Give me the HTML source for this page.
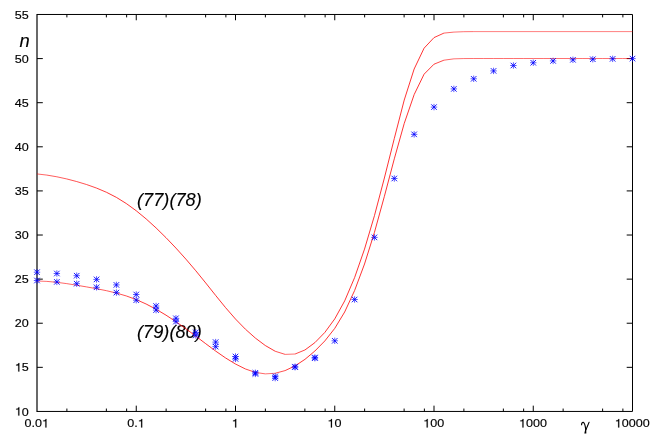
<!DOCTYPE html>
<html><head><meta charset="utf-8"><title>plot</title>
<style>
html,body{margin:0;padding:0;background:#fff;}
svg{display:block;will-change:transform;}
.s{font-family:"Liberation Sans",sans-serif;fill:#000;}
.r{font-family:"Liberation Serif",serif;fill:#000;}
</style></head>
<body>
<svg width="654" height="436" viewBox="0 0 654 436">
<rect width="654" height="436" fill="#fff"/>
<text transform="translate(137.0,205.7) scale(1.035,1)" font-size="17.6" font-style="italic" class="s" stroke="#000" stroke-width="0.12">(77)(78)</text>
<text transform="translate(137.0,337.8) scale(1.035,1)" font-size="17.6" font-style="italic" class="s" stroke="#000" stroke-width="0.12">(79)(80)</text>
<path d="M37.00 14.48H632.50V411.45H37.00" fill="none" stroke="#000" stroke-width="1" stroke-linejoin="miter"/>
<line x1="37.00" y1="13.98" x2="37.00" y2="411.95" stroke="#000" stroke-width="1.18" />
<line x1="66.88" y1="411.45" x2="66.88" y2="408.55" stroke="#000" stroke-width="1.0" />
<line x1="66.88" y1="14.48" x2="66.88" y2="17.38" stroke="#000" stroke-width="1.0" />
<line x1="106.37" y1="411.45" x2="106.37" y2="408.55" stroke="#000" stroke-width="1.0" />
<line x1="106.37" y1="14.48" x2="106.37" y2="17.38" stroke="#000" stroke-width="1.0" />
<line x1="126.63" y1="411.45" x2="126.63" y2="408.55" stroke="#000" stroke-width="1.0" />
<line x1="126.63" y1="14.48" x2="126.63" y2="17.38" stroke="#000" stroke-width="1.0" />
<line x1="136.25" y1="411.45" x2="136.25" y2="405.65" stroke="#000" stroke-width="1.0" />
<line x1="136.25" y1="14.48" x2="136.25" y2="20.28" stroke="#000" stroke-width="1.0" />
<line x1="166.13" y1="411.45" x2="166.13" y2="408.55" stroke="#000" stroke-width="1.0" />
<line x1="166.13" y1="14.48" x2="166.13" y2="17.38" stroke="#000" stroke-width="1.0" />
<line x1="205.62" y1="411.45" x2="205.62" y2="408.55" stroke="#000" stroke-width="1.0" />
<line x1="205.62" y1="14.48" x2="205.62" y2="17.38" stroke="#000" stroke-width="1.0" />
<line x1="225.88" y1="411.45" x2="225.88" y2="408.55" stroke="#000" stroke-width="1.0" />
<line x1="225.88" y1="14.48" x2="225.88" y2="17.38" stroke="#000" stroke-width="1.0" />
<line x1="235.50" y1="411.45" x2="235.50" y2="405.65" stroke="#000" stroke-width="1.0" />
<line x1="235.50" y1="14.48" x2="235.50" y2="20.28" stroke="#000" stroke-width="1.0" />
<line x1="265.38" y1="411.45" x2="265.38" y2="408.55" stroke="#000" stroke-width="1.0" />
<line x1="265.38" y1="14.48" x2="265.38" y2="17.38" stroke="#000" stroke-width="1.0" />
<line x1="304.87" y1="411.45" x2="304.87" y2="408.55" stroke="#000" stroke-width="1.0" />
<line x1="304.87" y1="14.48" x2="304.87" y2="17.38" stroke="#000" stroke-width="1.0" />
<line x1="325.13" y1="411.45" x2="325.13" y2="408.55" stroke="#000" stroke-width="1.0" />
<line x1="325.13" y1="14.48" x2="325.13" y2="17.38" stroke="#000" stroke-width="1.0" />
<line x1="334.75" y1="411.45" x2="334.75" y2="405.65" stroke="#000" stroke-width="1.0" />
<line x1="334.75" y1="14.48" x2="334.75" y2="20.28" stroke="#000" stroke-width="1.0" />
<line x1="364.63" y1="411.45" x2="364.63" y2="408.55" stroke="#000" stroke-width="1.0" />
<line x1="364.63" y1="14.48" x2="364.63" y2="17.38" stroke="#000" stroke-width="1.0" />
<line x1="404.12" y1="411.45" x2="404.12" y2="408.55" stroke="#000" stroke-width="1.0" />
<line x1="404.12" y1="14.48" x2="404.12" y2="17.38" stroke="#000" stroke-width="1.0" />
<line x1="424.38" y1="411.45" x2="424.38" y2="408.55" stroke="#000" stroke-width="1.0" />
<line x1="424.38" y1="14.48" x2="424.38" y2="17.38" stroke="#000" stroke-width="1.0" />
<line x1="434.00" y1="411.45" x2="434.00" y2="405.65" stroke="#000" stroke-width="1.0" />
<line x1="434.00" y1="14.48" x2="434.00" y2="20.28" stroke="#000" stroke-width="1.0" />
<line x1="463.88" y1="411.45" x2="463.88" y2="408.55" stroke="#000" stroke-width="1.0" />
<line x1="463.88" y1="14.48" x2="463.88" y2="17.38" stroke="#000" stroke-width="1.0" />
<line x1="503.37" y1="411.45" x2="503.37" y2="408.55" stroke="#000" stroke-width="1.0" />
<line x1="503.37" y1="14.48" x2="503.37" y2="17.38" stroke="#000" stroke-width="1.0" />
<line x1="523.63" y1="411.45" x2="523.63" y2="408.55" stroke="#000" stroke-width="1.0" />
<line x1="523.63" y1="14.48" x2="523.63" y2="17.38" stroke="#000" stroke-width="1.0" />
<line x1="533.25" y1="411.45" x2="533.25" y2="405.65" stroke="#000" stroke-width="1.0" />
<line x1="533.25" y1="14.48" x2="533.25" y2="20.28" stroke="#000" stroke-width="1.0" />
<line x1="563.13" y1="411.45" x2="563.13" y2="408.55" stroke="#000" stroke-width="1.0" />
<line x1="563.13" y1="14.48" x2="563.13" y2="17.38" stroke="#000" stroke-width="1.0" />
<line x1="602.62" y1="411.45" x2="602.62" y2="408.55" stroke="#000" stroke-width="1.0" />
<line x1="602.62" y1="14.48" x2="602.62" y2="17.38" stroke="#000" stroke-width="1.0" />
<line x1="622.88" y1="411.45" x2="622.88" y2="408.55" stroke="#000" stroke-width="1.0" />
<line x1="622.88" y1="14.48" x2="622.88" y2="17.38" stroke="#000" stroke-width="1.0" />
<line x1="37.00" y1="367.34" x2="42.80" y2="367.34" stroke="#000" stroke-width="1.0" />
<line x1="632.50" y1="367.34" x2="626.70" y2="367.34" stroke="#000" stroke-width="1.0" />
<line x1="37.00" y1="323.23" x2="42.80" y2="323.23" stroke="#000" stroke-width="1.0" />
<line x1="632.50" y1="323.23" x2="626.70" y2="323.23" stroke="#000" stroke-width="1.0" />
<line x1="37.00" y1="279.13" x2="42.80" y2="279.13" stroke="#000" stroke-width="1.0" />
<line x1="632.50" y1="279.13" x2="626.70" y2="279.13" stroke="#000" stroke-width="1.0" />
<line x1="37.00" y1="235.02" x2="42.80" y2="235.02" stroke="#000" stroke-width="1.0" />
<line x1="632.50" y1="235.02" x2="626.70" y2="235.02" stroke="#000" stroke-width="1.0" />
<line x1="37.00" y1="190.91" x2="42.80" y2="190.91" stroke="#000" stroke-width="1.0" />
<line x1="632.50" y1="190.91" x2="626.70" y2="190.91" stroke="#000" stroke-width="1.0" />
<line x1="37.00" y1="146.80" x2="42.80" y2="146.80" stroke="#000" stroke-width="1.0" />
<line x1="632.50" y1="146.80" x2="626.70" y2="146.80" stroke="#000" stroke-width="1.0" />
<line x1="37.00" y1="102.70" x2="42.80" y2="102.70" stroke="#000" stroke-width="1.0" />
<line x1="632.50" y1="102.70" x2="626.70" y2="102.70" stroke="#000" stroke-width="1.0" />
<line x1="37.00" y1="58.59" x2="42.80" y2="58.59" stroke="#000" stroke-width="1.0" />
<line x1="632.50" y1="58.59" x2="626.70" y2="58.59" stroke="#000" stroke-width="1.0" />
<path d="M0.359 0L0.273 0L0.273 -0.505L0.101 -0.505L0.101 -0.568C0.2 -0.568 0.28 -0.62 0.295 -0.703L0.359 -0.703Z" transform="translate(14.83,415.60) scale(12.567,12.012)" fill="#000" stroke="#000" stroke-width="0.0136"/>
<text transform="translate(21.81,415.60) scale(1.065,1)" font-size="11.8" class="s" stroke="#000" stroke-width="0.16">0</text>
<path d="M0.359 0L0.273 0L0.273 -0.505L0.101 -0.505L0.101 -0.568C0.2 -0.568 0.28 -0.62 0.295 -0.703L0.359 -0.703Z" transform="translate(14.83,371.49) scale(12.567,12.012)" fill="#000" stroke="#000" stroke-width="0.0136"/>
<text transform="translate(21.81,371.49) scale(1.065,1)" font-size="11.8" class="s" stroke="#000" stroke-width="0.16">5</text>
<text transform="translate(14.83,327.38) scale(1.065,1)" font-size="11.8" class="s" stroke="#000" stroke-width="0.16">2</text>
<text transform="translate(21.81,327.38) scale(1.065,1)" font-size="11.8" class="s" stroke="#000" stroke-width="0.16">0</text>
<text transform="translate(14.83,283.28) scale(1.065,1)" font-size="11.8" class="s" stroke="#000" stroke-width="0.16">2</text>
<text transform="translate(21.81,283.28) scale(1.065,1)" font-size="11.8" class="s" stroke="#000" stroke-width="0.16">5</text>
<text transform="translate(14.83,239.17) scale(1.065,1)" font-size="11.8" class="s" stroke="#000" stroke-width="0.16">3</text>
<text transform="translate(21.81,239.17) scale(1.065,1)" font-size="11.8" class="s" stroke="#000" stroke-width="0.16">0</text>
<text transform="translate(14.83,195.06) scale(1.065,1)" font-size="11.8" class="s" stroke="#000" stroke-width="0.16">3</text>
<text transform="translate(21.81,195.06) scale(1.065,1)" font-size="11.8" class="s" stroke="#000" stroke-width="0.16">5</text>
<text transform="translate(14.83,150.95) scale(1.065,1)" font-size="11.8" class="s" stroke="#000" stroke-width="0.16">4</text>
<text transform="translate(21.81,150.95) scale(1.065,1)" font-size="11.8" class="s" stroke="#000" stroke-width="0.16">0</text>
<text transform="translate(14.83,106.85) scale(1.065,1)" font-size="11.8" class="s" stroke="#000" stroke-width="0.16">4</text>
<text transform="translate(21.81,106.85) scale(1.065,1)" font-size="11.8" class="s" stroke="#000" stroke-width="0.16">5</text>
<text transform="translate(14.83,62.74) scale(1.065,1)" font-size="11.8" class="s" stroke="#000" stroke-width="0.16">5</text>
<text transform="translate(21.81,62.74) scale(1.065,1)" font-size="11.8" class="s" stroke="#000" stroke-width="0.16">0</text>
<text transform="translate(14.83,18.63) scale(1.065,1)" font-size="11.8" class="s" stroke="#000" stroke-width="0.16">5</text>
<text transform="translate(21.81,18.63) scale(1.065,1)" font-size="11.8" class="s" stroke="#000" stroke-width="0.16">5</text>
<text transform="translate(24.47,427.40) scale(1.065,1)" font-size="11.8" class="s" stroke="#000" stroke-width="0.16">0</text>
<text transform="translate(31.46,427.40) scale(1.065,1)" font-size="11.8" class="s" stroke="#000" stroke-width="0.16">.</text>
<text transform="translate(34.95,427.40) scale(1.065,1)" font-size="11.8" class="s" stroke="#000" stroke-width="0.16">0</text>
<path d="M0.359 0L0.273 0L0.273 -0.505L0.101 -0.505L0.101 -0.568C0.2 -0.568 0.28 -0.62 0.295 -0.703L0.359 -0.703Z" transform="translate(41.94,427.40) scale(12.567,12.012)" fill="#000" stroke="#000" stroke-width="0.0136"/>
<text transform="translate(127.22,427.40) scale(1.065,1)" font-size="11.8" class="s" stroke="#000" stroke-width="0.16">0</text>
<text transform="translate(134.20,427.40) scale(1.065,1)" font-size="11.8" class="s" stroke="#000" stroke-width="0.16">.</text>
<path d="M0.359 0L0.273 0L0.273 -0.505L0.101 -0.505L0.101 -0.568C0.2 -0.568 0.28 -0.62 0.295 -0.703L0.359 -0.703Z" transform="translate(137.70,427.40) scale(12.567,12.012)" fill="#000" stroke="#000" stroke-width="0.0136"/>
<path d="M0.359 0L0.273 0L0.273 -0.505L0.101 -0.505L0.101 -0.568C0.2 -0.568 0.28 -0.62 0.295 -0.703L0.359 -0.703Z" transform="translate(231.71,427.40) scale(12.567,12.012)" fill="#000" stroke="#000" stroke-width="0.0136"/>
<path d="M0.359 0L0.273 0L0.273 -0.505L0.101 -0.505L0.101 -0.568C0.2 -0.568 0.28 -0.62 0.295 -0.703L0.359 -0.703Z" transform="translate(327.46,427.40) scale(12.567,12.012)" fill="#000" stroke="#000" stroke-width="0.0136"/>
<text transform="translate(334.45,427.40) scale(1.065,1)" font-size="11.8" class="s" stroke="#000" stroke-width="0.16">0</text>
<path d="M0.359 0L0.273 0L0.273 -0.505L0.101 -0.505L0.101 -0.568C0.2 -0.568 0.28 -0.62 0.295 -0.703L0.359 -0.703Z" transform="translate(423.22,427.40) scale(12.567,12.012)" fill="#000" stroke="#000" stroke-width="0.0136"/>
<text transform="translate(430.21,427.40) scale(1.065,1)" font-size="11.8" class="s" stroke="#000" stroke-width="0.16">0</text>
<text transform="translate(437.19,427.40) scale(1.065,1)" font-size="11.8" class="s" stroke="#000" stroke-width="0.16">0</text>
<path d="M0.359 0L0.273 0L0.273 -0.505L0.101 -0.505L0.101 -0.568C0.2 -0.568 0.28 -0.62 0.295 -0.703L0.359 -0.703Z" transform="translate(518.98,427.40) scale(12.567,12.012)" fill="#000" stroke="#000" stroke-width="0.0136"/>
<text transform="translate(525.96,427.40) scale(1.065,1)" font-size="11.8" class="s" stroke="#000" stroke-width="0.16">0</text>
<text transform="translate(532.95,427.40) scale(1.065,1)" font-size="11.8" class="s" stroke="#000" stroke-width="0.16">0</text>
<text transform="translate(539.94,427.40) scale(1.065,1)" font-size="11.8" class="s" stroke="#000" stroke-width="0.16">0</text>
<path d="M0.359 0L0.273 0L0.273 -0.505L0.101 -0.505L0.101 -0.568C0.2 -0.568 0.28 -0.62 0.295 -0.703L0.359 -0.703Z" transform="translate(614.73,427.40) scale(12.567,12.012)" fill="#000" stroke="#000" stroke-width="0.0136"/>
<text transform="translate(621.72,427.40) scale(1.065,1)" font-size="11.8" class="s" stroke="#000" stroke-width="0.16">0</text>
<text transform="translate(628.71,427.40) scale(1.065,1)" font-size="11.8" class="s" stroke="#000" stroke-width="0.16">0</text>
<text transform="translate(635.69,427.40) scale(1.065,1)" font-size="11.8" class="s" stroke="#000" stroke-width="0.16">0</text>
<text transform="translate(642.68,427.40) scale(1.065,1)" font-size="11.8" class="s" stroke="#000" stroke-width="0.16">0</text>
<text transform="translate(19.4,46.9) scale(1.045,1)" font-size="17.6" font-style="italic" class="s" stroke="#000" stroke-width="0.12">n</text>
<g fill="none" stroke="#000" stroke-linecap="round" stroke-linejoin="round"><path d="M581.6 424.8C581.5 423 582.4 422.2 583.3 422.4C584.6 422.8 585.2 425.2 585.75 429.4" stroke-width="1.15"/><path d="M589.1 422.2L585.8 430" stroke-width="1.05"/><path d="M585.3 428.8L586.2 428.8L586.35 433.6L584.35 433.6Z" fill="#000" stroke="none"/></g>
<polyline points="37.00,173.93 46.92,175.10" fill="none" stroke="#ff0000" stroke-width="0.60" stroke-linejoin="round"/>
<polyline points="46.92,175.10 56.85,176.79 66.78,178.95" fill="none" stroke="#ff0000" stroke-width="0.64" stroke-linejoin="round"/>
<polyline points="66.78,178.95 76.70,181.55 86.62,184.56" fill="none" stroke="#ff0000" stroke-width="0.68" stroke-linejoin="round"/>
<polyline points="86.62,184.56 96.55,188.08" fill="none" stroke="#ff0000" stroke-width="0.72" stroke-linejoin="round"/>
<polyline points="96.55,188.08 106.47,192.29" fill="none" stroke="#ff0000" stroke-width="0.76" stroke-linejoin="round"/>
<polyline points="106.47,192.29 116.40,197.39 126.33,203.55 136.25,210.78 146.18,218.95 156.10,227.96 166.03,237.69 175.95,248.08 185.88,259.11 195.80,270.75 205.72,282.96 215.65,295.43 225.57,307.64 235.50,319.04 245.43,329.21 255.35,338.05 265.27,345.51 275.20,351.25" fill="none" stroke="#ff0000" stroke-width="0.80" stroke-linejoin="round"/>
<polyline points="275.20,351.25 285.12,354.39" fill="none" stroke="#ff0000" stroke-width="0.68" stroke-linejoin="round"/>
<polyline points="285.12,354.39 295.05,354.02" fill="none" stroke="#ff0000" stroke-width="0.56" stroke-linejoin="round"/>
<polyline points="295.05,354.02 304.98,349.96" fill="none" stroke="#ff0000" stroke-width="0.72" stroke-linejoin="round"/>
<polyline points="304.98,349.96 314.90,342.63 324.82,332.45 334.75,318.89 344.68,300.90 354.60,277.62 364.52,249.11 374.45,215.68 384.38,178.00 394.30,138.49 404.23,100.05 414.15,69.00 424.07,48.20 434.00,37.60" fill="none" stroke="#ff0000" stroke-width="0.80" stroke-linejoin="round"/>
<polyline points="434.00,37.60 443.93,33.10" fill="none" stroke="#ff0000" stroke-width="0.76" stroke-linejoin="round"/>
<polyline points="443.93,33.10 453.85,32.10" fill="none" stroke="#ff0000" stroke-width="0.60" stroke-linejoin="round"/>
<polyline points="453.85,32.10 463.77,31.70 473.70,31.60" fill="none" stroke="#ff0000" stroke-width="0.56" stroke-linejoin="round"/>
<polyline points="473.70,31.60 632.50,31.60" fill="none" stroke="#ff0000" stroke-width="0.50" stroke-linejoin="round"/>
<polyline points="37.00,281.01 46.92,281.40" fill="none" stroke="#ff0000" stroke-width="0.56" stroke-linejoin="round"/>
<polyline points="46.92,281.40 56.85,282.32 66.78,283.64 76.70,285.22" fill="none" stroke="#ff0000" stroke-width="0.60" stroke-linejoin="round"/>
<polyline points="76.70,285.22 86.62,286.92 96.55,288.70 106.47,290.69 116.40,293.05" fill="none" stroke="#ff0000" stroke-width="0.64" stroke-linejoin="round"/>
<polyline points="116.40,293.05 126.33,295.96" fill="none" stroke="#ff0000" stroke-width="0.68" stroke-linejoin="round"/>
<polyline points="126.33,295.96 136.25,299.59" fill="none" stroke="#ff0000" stroke-width="0.72" stroke-linejoin="round"/>
<polyline points="136.25,299.59 146.18,304.04" fill="none" stroke="#ff0000" stroke-width="0.76" stroke-linejoin="round"/>
<polyline points="146.18,304.04 156.10,309.26 166.03,315.17 175.95,321.69 185.88,328.72 195.80,336.16 205.72,343.70 215.65,351.07 225.57,357.94 235.50,364.03" fill="none" stroke="#ff0000" stroke-width="0.80" stroke-linejoin="round"/>
<polyline points="235.50,364.03 245.43,368.97" fill="none" stroke="#ff0000" stroke-width="0.76" stroke-linejoin="round"/>
<polyline points="245.43,368.97 255.35,372.38" fill="none" stroke="#ff0000" stroke-width="0.72" stroke-linejoin="round"/>
<polyline points="255.35,372.38 265.27,373.89" fill="none" stroke="#ff0000" stroke-width="0.60" stroke-linejoin="round"/>
<polyline points="265.27,373.89 275.20,373.27" fill="none" stroke="#ff0000" stroke-width="0.56" stroke-linejoin="round"/>
<polyline points="275.20,373.27 285.12,370.59" fill="none" stroke="#ff0000" stroke-width="0.68" stroke-linejoin="round"/>
<polyline points="285.12,370.59 295.05,365.90" fill="none" stroke="#ff0000" stroke-width="0.76" stroke-linejoin="round"/>
<polyline points="295.05,365.90 304.98,359.33 314.90,351.00 324.82,340.95 334.75,328.39 344.68,311.97 354.60,290.56 364.52,264.00 374.45,232.39 384.38,196.35 394.30,158.82 404.23,123.46 414.15,94.60 424.07,74.20 434.00,64.20" fill="none" stroke="#ff0000" stroke-width="0.80" stroke-linejoin="round"/>
<polyline points="434.00,64.20 443.93,60.20" fill="none" stroke="#ff0000" stroke-width="0.72" stroke-linejoin="round"/>
<polyline points="443.93,60.20 453.85,58.85" fill="none" stroke="#ff0000" stroke-width="0.60" stroke-linejoin="round"/>
<polyline points="453.85,58.85 463.77,58.55 473.70,58.50 483.62,58.50 493.55,58.50 503.48,58.50 513.40,58.50 523.33,58.50 533.25,58.50 543.17,58.50 553.10,58.50 563.02,58.50 572.95,58.50 582.88,58.50 592.80,58.50 602.73,58.50 612.65,58.50 622.58,58.50 632.50,58.50" fill="none" stroke="#ff0000" stroke-width="0.56" stroke-linejoin="round"/>
<g transform="translate(37.00,272.20)" fill="none" stroke="#0000ff"><path d="M-3.2 0H3.2M0 -3.2V3.2" stroke-width="0.65"/><path d="M-2.75 -2.75L2.75 2.75M-2.75 2.75L2.75 -2.75" stroke-width="0.9"/></g>
<g transform="translate(37.00,280.50)" fill="none" stroke="#0000ff"><path d="M-3.2 0H3.2M0 -3.2V3.2" stroke-width="0.65"/><path d="M-2.75 -2.75L2.75 2.75M-2.75 2.75L2.75 -2.75" stroke-width="0.9"/></g>
<g transform="translate(56.85,273.50)" fill="none" stroke="#0000ff"><path d="M-3.2 0H3.2M0 -3.2V3.2" stroke-width="0.65"/><path d="M-2.75 -2.75L2.75 2.75M-2.75 2.75L2.75 -2.75" stroke-width="0.9"/></g>
<g transform="translate(56.85,281.90)" fill="none" stroke="#0000ff"><path d="M-3.2 0H3.2M0 -3.2V3.2" stroke-width="0.65"/><path d="M-2.75 -2.75L2.75 2.75M-2.75 2.75L2.75 -2.75" stroke-width="0.9"/></g>
<g transform="translate(76.70,275.70)" fill="none" stroke="#0000ff"><path d="M-3.2 0H3.2M0 -3.2V3.2" stroke-width="0.65"/><path d="M-2.75 -2.75L2.75 2.75M-2.75 2.75L2.75 -2.75" stroke-width="0.9"/></g>
<g transform="translate(76.70,283.70)" fill="none" stroke="#0000ff"><path d="M-3.2 0H3.2M0 -3.2V3.2" stroke-width="0.65"/><path d="M-2.75 -2.75L2.75 2.75M-2.75 2.75L2.75 -2.75" stroke-width="0.9"/></g>
<g transform="translate(96.55,279.40)" fill="none" stroke="#0000ff"><path d="M-3.2 0H3.2M0 -3.2V3.2" stroke-width="0.65"/><path d="M-2.75 -2.75L2.75 2.75M-2.75 2.75L2.75 -2.75" stroke-width="0.9"/></g>
<g transform="translate(96.55,287.30)" fill="none" stroke="#0000ff"><path d="M-3.2 0H3.2M0 -3.2V3.2" stroke-width="0.65"/><path d="M-2.75 -2.75L2.75 2.75M-2.75 2.75L2.75 -2.75" stroke-width="0.9"/></g>
<g transform="translate(116.40,284.90)" fill="none" stroke="#0000ff"><path d="M-3.2 0H3.2M0 -3.2V3.2" stroke-width="0.65"/><path d="M-2.75 -2.75L2.75 2.75M-2.75 2.75L2.75 -2.75" stroke-width="0.9"/></g>
<g transform="translate(116.40,292.60)" fill="none" stroke="#0000ff"><path d="M-3.2 0H3.2M0 -3.2V3.2" stroke-width="0.65"/><path d="M-2.75 -2.75L2.75 2.75M-2.75 2.75L2.75 -2.75" stroke-width="0.9"/></g>
<g transform="translate(136.25,294.50)" fill="none" stroke="#0000ff"><path d="M-3.2 0H3.2M0 -3.2V3.2" stroke-width="0.65"/><path d="M-2.75 -2.75L2.75 2.75M-2.75 2.75L2.75 -2.75" stroke-width="0.9"/></g>
<g transform="translate(136.25,300.20)" fill="none" stroke="#0000ff"><path d="M-3.2 0H3.2M0 -3.2V3.2" stroke-width="0.65"/><path d="M-2.75 -2.75L2.75 2.75M-2.75 2.75L2.75 -2.75" stroke-width="0.9"/></g>
<g transform="translate(156.10,306.00)" fill="none" stroke="#0000ff"><path d="M-3.2 0H3.2M0 -3.2V3.2" stroke-width="0.65"/><path d="M-2.75 -2.75L2.75 2.75M-2.75 2.75L2.75 -2.75" stroke-width="0.9"/></g>
<g transform="translate(156.10,310.10)" fill="none" stroke="#0000ff"><path d="M-3.2 0H3.2M0 -3.2V3.2" stroke-width="0.65"/><path d="M-2.75 -2.75L2.75 2.75M-2.75 2.75L2.75 -2.75" stroke-width="0.9"/></g>
<g transform="translate(175.95,318.30)" fill="none" stroke="#0000ff"><path d="M-3.2 0H3.2M0 -3.2V3.2" stroke-width="0.65"/><path d="M-2.75 -2.75L2.75 2.75M-2.75 2.75L2.75 -2.75" stroke-width="0.9"/></g>
<g transform="translate(175.95,321.60)" fill="none" stroke="#0000ff"><path d="M-3.2 0H3.2M0 -3.2V3.2" stroke-width="0.65"/><path d="M-2.75 -2.75L2.75 2.75M-2.75 2.75L2.75 -2.75" stroke-width="0.9"/></g>
<g transform="translate(195.80,332.40)" fill="none" stroke="#0000ff"><path d="M-3.2 0H3.2M0 -3.2V3.2" stroke-width="0.65"/><path d="M-2.75 -2.75L2.75 2.75M-2.75 2.75L2.75 -2.75" stroke-width="0.9"/></g>
<g transform="translate(195.80,335.40)" fill="none" stroke="#0000ff"><path d="M-3.2 0H3.2M0 -3.2V3.2" stroke-width="0.65"/><path d="M-2.75 -2.75L2.75 2.75M-2.75 2.75L2.75 -2.75" stroke-width="0.9"/></g>
<g transform="translate(215.65,342.10)" fill="none" stroke="#0000ff"><path d="M-3.2 0H3.2M0 -3.2V3.2" stroke-width="0.65"/><path d="M-2.75 -2.75L2.75 2.75M-2.75 2.75L2.75 -2.75" stroke-width="0.9"/></g>
<g transform="translate(215.65,346.60)" fill="none" stroke="#0000ff"><path d="M-3.2 0H3.2M0 -3.2V3.2" stroke-width="0.65"/><path d="M-2.75 -2.75L2.75 2.75M-2.75 2.75L2.75 -2.75" stroke-width="0.9"/></g>
<g transform="translate(235.50,356.50)" fill="none" stroke="#0000ff"><path d="M-3.2 0H3.2M0 -3.2V3.2" stroke-width="0.65"/><path d="M-2.75 -2.75L2.75 2.75M-2.75 2.75L2.75 -2.75" stroke-width="0.9"/></g>
<g transform="translate(235.50,358.90)" fill="none" stroke="#0000ff"><path d="M-3.2 0H3.2M0 -3.2V3.2" stroke-width="0.65"/><path d="M-2.75 -2.75L2.75 2.75M-2.75 2.75L2.75 -2.75" stroke-width="0.9"/></g>
<g transform="translate(255.35,372.80)" fill="none" stroke="#0000ff"><path d="M-3.2 0H3.2M0 -3.2V3.2" stroke-width="0.65"/><path d="M-2.75 -2.75L2.75 2.75M-2.75 2.75L2.75 -2.75" stroke-width="0.9"/></g>
<g transform="translate(255.35,373.90)" fill="none" stroke="#0000ff"><path d="M-3.2 0H3.2M0 -3.2V3.2" stroke-width="0.65"/><path d="M-2.75 -2.75L2.75 2.75M-2.75 2.75L2.75 -2.75" stroke-width="0.9"/></g>
<g transform="translate(275.20,376.40)" fill="none" stroke="#0000ff"><path d="M-3.2 0H3.2M0 -3.2V3.2" stroke-width="0.65"/><path d="M-2.75 -2.75L2.75 2.75M-2.75 2.75L2.75 -2.75" stroke-width="0.9"/></g>
<g transform="translate(275.20,378.10)" fill="none" stroke="#0000ff"><path d="M-3.2 0H3.2M0 -3.2V3.2" stroke-width="0.65"/><path d="M-2.75 -2.75L2.75 2.75M-2.75 2.75L2.75 -2.75" stroke-width="0.9"/></g>
<g transform="translate(295.05,366.70)" fill="none" stroke="#0000ff"><path d="M-3.2 0H3.2M0 -3.2V3.2" stroke-width="0.65"/><path d="M-2.75 -2.75L2.75 2.75M-2.75 2.75L2.75 -2.75" stroke-width="0.9"/></g>
<g transform="translate(295.05,367.20)" fill="none" stroke="#0000ff"><path d="M-3.2 0H3.2M0 -3.2V3.2" stroke-width="0.65"/><path d="M-2.75 -2.75L2.75 2.75M-2.75 2.75L2.75 -2.75" stroke-width="0.9"/></g>
<g transform="translate(314.90,357.50)" fill="none" stroke="#0000ff"><path d="M-3.2 0H3.2M0 -3.2V3.2" stroke-width="0.65"/><path d="M-2.75 -2.75L2.75 2.75M-2.75 2.75L2.75 -2.75" stroke-width="0.9"/></g>
<g transform="translate(314.90,358.20)" fill="none" stroke="#0000ff"><path d="M-3.2 0H3.2M0 -3.2V3.2" stroke-width="0.65"/><path d="M-2.75 -2.75L2.75 2.75M-2.75 2.75L2.75 -2.75" stroke-width="0.9"/></g>
<g transform="translate(334.75,340.80)" fill="none" stroke="#0000ff"><path d="M-3.2 0H3.2M0 -3.2V3.2" stroke-width="0.65"/><path d="M-2.75 -2.75L2.75 2.75M-2.75 2.75L2.75 -2.75" stroke-width="0.9"/></g>
<g transform="translate(354.60,299.50)" fill="none" stroke="#0000ff"><path d="M-3.2 0H3.2M0 -3.2V3.2" stroke-width="0.65"/><path d="M-2.75 -2.75L2.75 2.75M-2.75 2.75L2.75 -2.75" stroke-width="0.9"/></g>
<g transform="translate(374.45,237.40)" fill="none" stroke="#0000ff"><path d="M-3.2 0H3.2M0 -3.2V3.2" stroke-width="0.65"/><path d="M-2.75 -2.75L2.75 2.75M-2.75 2.75L2.75 -2.75" stroke-width="0.9"/></g>
<g transform="translate(394.30,178.50)" fill="none" stroke="#0000ff"><path d="M-3.2 0H3.2M0 -3.2V3.2" stroke-width="0.65"/><path d="M-2.75 -2.75L2.75 2.75M-2.75 2.75L2.75 -2.75" stroke-width="0.9"/></g>
<g transform="translate(414.15,134.35)" fill="none" stroke="#0000ff"><path d="M-3.2 0H3.2M0 -3.2V3.2" stroke-width="0.65"/><path d="M-2.75 -2.75L2.75 2.75M-2.75 2.75L2.75 -2.75" stroke-width="0.9"/></g>
<g transform="translate(434.00,107.10)" fill="none" stroke="#0000ff"><path d="M-3.2 0H3.2M0 -3.2V3.2" stroke-width="0.65"/><path d="M-2.75 -2.75L2.75 2.75M-2.75 2.75L2.75 -2.75" stroke-width="0.9"/></g>
<g transform="translate(453.85,88.90)" fill="none" stroke="#0000ff"><path d="M-3.2 0H3.2M0 -3.2V3.2" stroke-width="0.65"/><path d="M-2.75 -2.75L2.75 2.75M-2.75 2.75L2.75 -2.75" stroke-width="0.9"/></g>
<g transform="translate(473.70,78.80)" fill="none" stroke="#0000ff"><path d="M-3.2 0H3.2M0 -3.2V3.2" stroke-width="0.65"/><path d="M-2.75 -2.75L2.75 2.75M-2.75 2.75L2.75 -2.75" stroke-width="0.9"/></g>
<g transform="translate(493.55,70.90)" fill="none" stroke="#0000ff"><path d="M-3.2 0H3.2M0 -3.2V3.2" stroke-width="0.65"/><path d="M-2.75 -2.75L2.75 2.75M-2.75 2.75L2.75 -2.75" stroke-width="0.9"/></g>
<g transform="translate(513.40,65.50)" fill="none" stroke="#0000ff"><path d="M-3.2 0H3.2M0 -3.2V3.2" stroke-width="0.65"/><path d="M-2.75 -2.75L2.75 2.75M-2.75 2.75L2.75 -2.75" stroke-width="0.9"/></g>
<g transform="translate(533.25,62.75)" fill="none" stroke="#0000ff"><path d="M-3.2 0H3.2M0 -3.2V3.2" stroke-width="0.65"/><path d="M-2.75 -2.75L2.75 2.75M-2.75 2.75L2.75 -2.75" stroke-width="0.9"/></g>
<g transform="translate(553.10,60.90)" fill="none" stroke="#0000ff"><path d="M-3.2 0H3.2M0 -3.2V3.2" stroke-width="0.65"/><path d="M-2.75 -2.75L2.75 2.75M-2.75 2.75L2.75 -2.75" stroke-width="0.9"/></g>
<g transform="translate(572.95,59.80)" fill="none" stroke="#0000ff"><path d="M-3.2 0H3.2M0 -3.2V3.2" stroke-width="0.65"/><path d="M-2.75 -2.75L2.75 2.75M-2.75 2.75L2.75 -2.75" stroke-width="0.9"/></g>
<g transform="translate(592.80,59.25)" fill="none" stroke="#0000ff"><path d="M-3.2 0H3.2M0 -3.2V3.2" stroke-width="0.65"/><path d="M-2.75 -2.75L2.75 2.75M-2.75 2.75L2.75 -2.75" stroke-width="0.9"/></g>
<g transform="translate(612.65,58.85)" fill="none" stroke="#0000ff"><path d="M-3.2 0H3.2M0 -3.2V3.2" stroke-width="0.65"/><path d="M-2.75 -2.75L2.75 2.75M-2.75 2.75L2.75 -2.75" stroke-width="0.9"/></g>
<g transform="translate(632.50,58.60)" fill="none" stroke="#0000ff"><path d="M-3.2 0H3.2M0 -3.2V3.2" stroke-width="0.65"/><path d="M-2.75 -2.75L2.75 2.75M-2.75 2.75L2.75 -2.75" stroke-width="0.9"/></g>
</svg>
</body></html>
